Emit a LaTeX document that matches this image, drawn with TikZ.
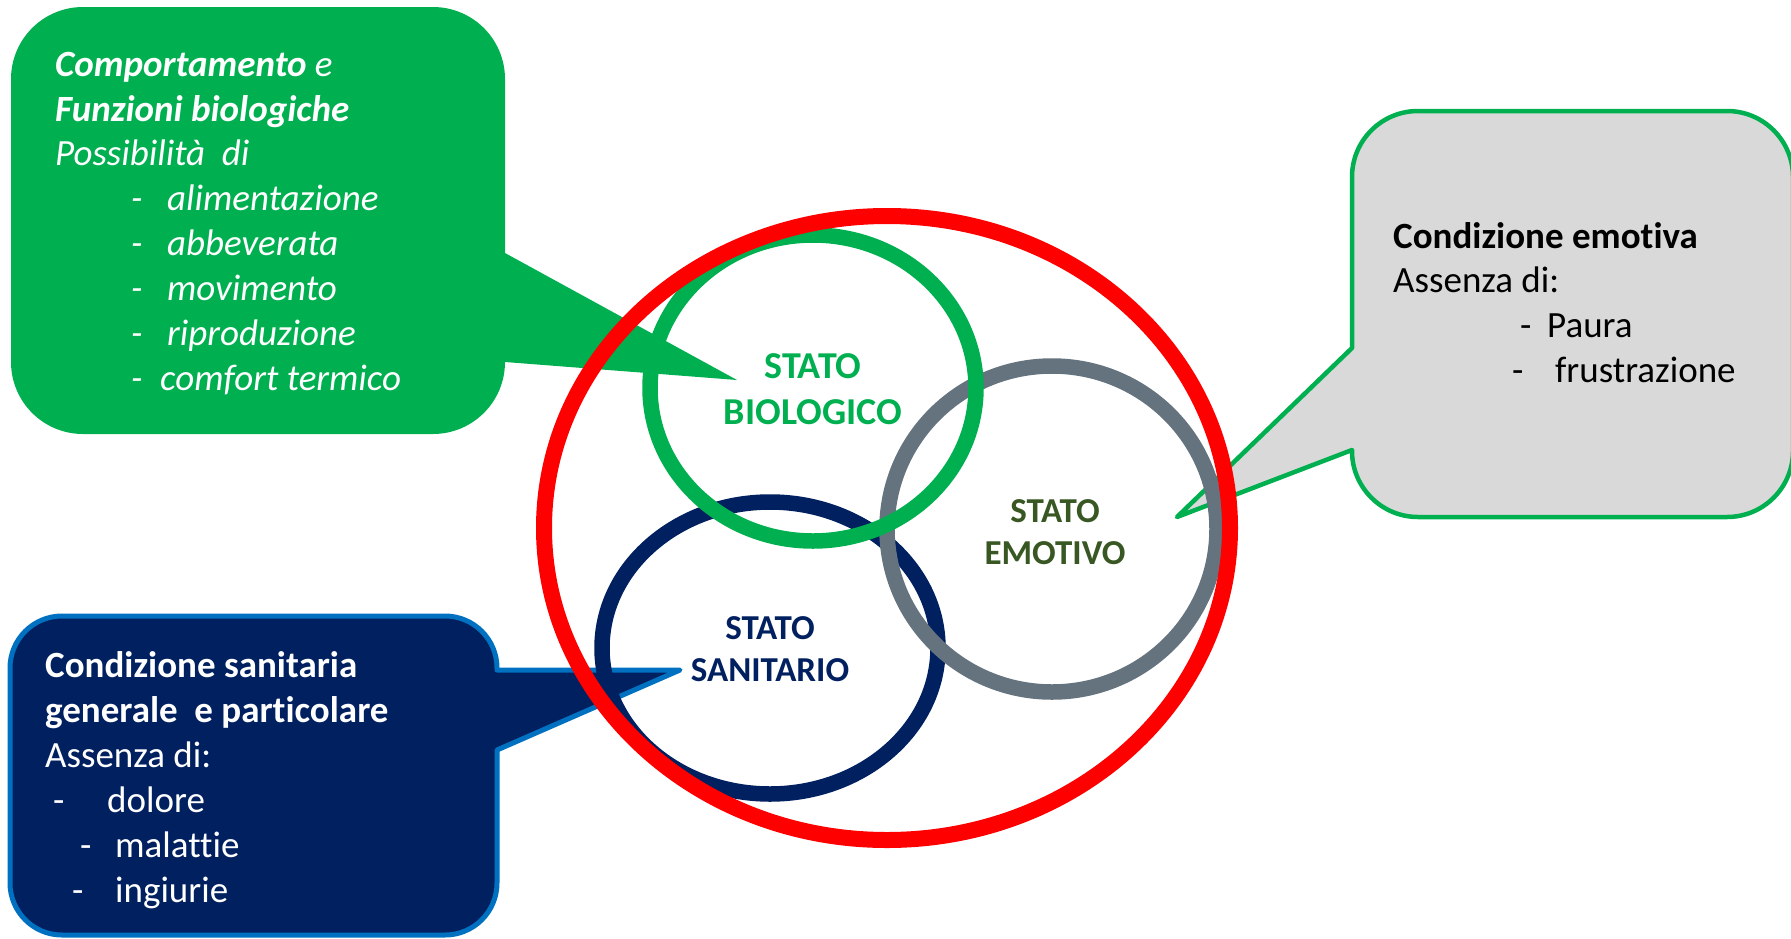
\documentclass[tikz,border=0pt]{standalone}
\usepackage{fontspec}
\setmainfont{Carlito}[Ligatures={NoCommon}]
\definecolor{bioGreen}{HTML}{00B050}
\definecolor{sanNavy}{HTML}{002060}
\definecolor{sanBlue}{HTML}{0070C0}
\definecolor{emoGray}{HTML}{64737D}
\definecolor{emoOlive}{HTML}{385723}
\definecolor{boxGray}{HTML}{D9D9D9}
\definecolor{ringRed}{HTML}{FF0000}
\begin{document}
\begin{tikzpicture}[x=1pt,y=1pt,yscale=-1,
  line join=round,
  calltxt/.style={anchor=base west, inner sep=0pt, font=\fontsize{37}{45}\selectfont},
  ring/.style={line width=15.5pt},
  lbl/.style={anchor=base, inner sep=0pt, font=\fontsize{35}{42}\selectfont\bfseries}]
\useasboundingbox (0,0) rectangle (1791,938);

% --- callout: biological functions (green) ---
\fill[bioGreen] (83,7) -- (433,7) arc[start angle=270,end angle=360,radius=72]
  -- (505,253) -- (737,380) -- (505,362)
  arc[start angle=0,end angle=90,radius=72]
  -- (83,434) arc[start angle=90,end angle=180,radius=72]
  -- (11,79) arc[start angle=180,end angle=270,radius=72] -- cycle;

% --- callout: emotional condition (grey) ---
\filldraw[fill=boxGray, draw=bioGreen, line width=4.5pt]
  (1418,111) -- (1727,111) arc[start angle=270,end angle=360,radius=66]
  -- (1793,451) arc[start angle=0,end angle=90,radius=66]
  -- (1418,517) arc[start angle=90,end angle=180,radius=66]
  -- (1352,450) -- (1177,517) -- (1352,348)
  -- (1352,177) arc[start angle=180,end angle=270,radius=66] -- cycle;

% --- callout: health condition (navy) ---
\filldraw[fill=sanNavy, draw=sanBlue, line width=5pt]
  (62,616) -- (445,616) arc[start angle=270,end angle=360,radius=52]
  -- (497,670) -- (680,670) -- (497,750)
  -- (497,883) arc[start angle=0,end angle=90,radius=52]
  -- (62,935) arc[start angle=90,end angle=180,radius=52]
  -- (10,668) arc[start angle=180,end angle=270,radius=52] -- cycle;

% --- the three states and the enclosing ring ---
\draw[ring, sanNavy] (770,648) ellipse[x radius=168, y radius=146];
\draw[ring, emoGray] (1052,529) ellipse[x radius=165, y radius=163];
\draw[ring, bioGreen] (813,388) ellipse[x radius=163, y radius=153];
\draw[line width=16pt, ringRed] (887,528) ellipse[x radius=343, y radius=312];

% --- state labels ---
\node[lbl, text=bioGreen, font=\fontsize{38}{45}\selectfont\bfseries] (bio1) at (813,378) {STATO};
\node[lbl, text=bioGreen, font=\fontsize{38}{45}\selectfont\bfseries] (bio2) at (813,424) {BIOLOGICO};
\node[lbl, text=emoOlive] (emo1) at (1055,522) {STATO};
\node[lbl, text=emoOlive] (emo2) at (1055,564) {EMOTIVO};
\node[lbl, text=sanNavy] (san1) at (770,639) {STATO};
\node[lbl, text=sanNavy] (san2) at (770,681) {SANITARIO};

% --- green callout text ---
\begin{scope}[every node/.style={calltxt, text=white}]
\node (g1) at (55,76)  {\itshape\textbf{Comportamento} e};
\node (g2) at (55,121) {\itshape\bfseries Funzioni biologiche};
\node (g3) at (55,165) {\itshape Possibilità\ \ di};
\node (g4) at (131,210) {\itshape\makebox[36pt][l]{-}alimentazione};
\node (g5) at (131,255) {\itshape\makebox[36pt][l]{-}abbeverata};
\node (g6) at (131,300) {\itshape\makebox[36pt][l]{-}movimento};
\node (g7) at (131,345) {\itshape\makebox[36pt][l]{-}riproduzione};
\node (g8) at (131,390) {\itshape\makebox[29pt][l]{-}comfort termico};
\end{scope}

% --- grey callout text ---
\begin{scope}[every node/.style={calltxt, text=black}]
\node (e1) at (1393,248) {\bfseries Condizione emotiva};
\node (e2) at (1393,292) {Assenza di:};
\node (e3) at (1520,337) {\makebox[27pt][l]{-}Paura};
\node (e4) at (1512,382) {\makebox[43pt][l]{-}frustrazione};
\end{scope}

% --- navy callout text ---
\begin{scope}[every node/.style={calltxt, text=white}]
\node (s1) at (45,677) {\bfseries Condizione sanitaria};
\node (s2) at (45,722) {\bfseries generale\ \ e particolare};
\node (s3) at (45,767) {Assenza di:};
\node (s4) at (53,812) {\makebox[54pt][l]{-}dolore};
\node (s5) at (80,857) {\makebox[35pt][l]{-}malattie};
\node (s6) at (72,902) {\makebox[43pt][l]{-}ingiurie};
\end{scope}
\end{tikzpicture}
\end{document}
